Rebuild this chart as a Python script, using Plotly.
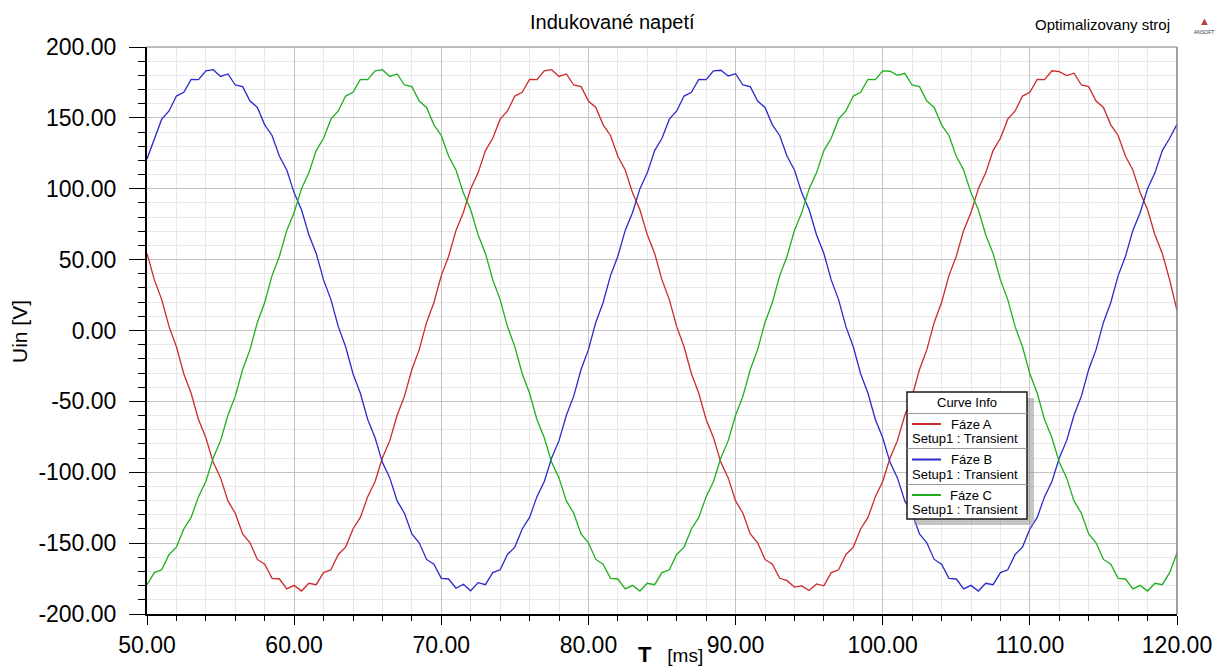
import plotly.graph_objects as go

# ---------------- data ----------------
T_START = 50.0   # ms
T_STEP = 0.5     # ms

faze_a = [
    54.4, 35.7, 21.8, 2.7, -11.5, -30.5,
    -44.3, -62.8, -75.7, -93.0, -104.0, -120.2, -128.9, -143.5, -149.8, -161.5,
    -164.8, -174.8, -175.3, -182.3, -179.8, -183.8, -178.3, -179.3, -170.8, -168.8,
    -158.0, -152.8, -140.0, -131.9, -117.2, -106.5, -90.0, -77.7, -59.8, -46.3,
    -27.5, -13.5, 5.7, 19.8, 38.7, 52.4, 70.6, 83.2, 100.1, 111.2,
    126.9, 135.6, 149.1, 154.9, 165.4, 168.0, 177.2, 177.0, 183.2,
    184.0, 179.2, 181.0, 173.2, 172.0, 161.9, 157.4, 145.1, 137.6, 122.9,
    113.2, 97.1, 85.2, 67.6, 54.4, 35.7, 21.8, 2.7, -11.5, -30.5,
    -44.3, -62.8, -75.7, -93.0, -104.0, -120.2, -128.9, -143.5, -149.8, -161.5,
    -164.8, -174.8, -176.5, -181.0, -180.2, -183.4, -178.8, -180.1, -170.8, -168.8,
    -158.0, -152.8, -140.0, -131.9, -117.2, -106.5, -90.0, -77.7, -59.8, -46.3,
    -27.5, -13.5, 5.7, 19.8, 38.7, 52.4, 70.6, 83.2, 100.1, 111.2,
    126.9, 135.6, 149.1, 154.9, 165.4, 168.0, 177.2, 177.0, 183.2,
    182.6, 179.8, 181.5, 173.2, 172.0, 161.9, 157.4, 145.1, 137.6, 122.9,
    113.2, 97.1, 85.2, 67.6, 54.4, 35.7, 14.0,
]

faze_b = [
    121.0, 135.6, 149.1, 154.9, 165.4, 168.0, 177.2, 177.0, 183.2,
    184.0, 179.2, 181.0, 173.2, 172.0, 161.9, 157.4, 145.1, 137.6, 122.9,
    113.2, 97.1, 85.2, 67.6, 54.4, 35.7, 21.8, 2.7, -11.5, -30.5,
    -44.3, -62.8, -75.7, -93.0, -104.0, -120.2, -128.9, -143.5, -149.8, -161.5,
    -164.8, -174.8, -175.3, -181.8, -179.0, -183.6, -177.9, -179.3, -170.8, -168.8,
    -158.0, -152.8, -140.0, -131.9, -117.2, -106.5, -90.0, -77.7, -59.8, -46.3,
    -27.5, -13.5, 5.7, 19.8, 38.7, 52.4, 70.6, 83.2, 100.1, 111.2,
    126.9, 135.6, 149.1, 154.9, 165.4, 168.0, 177.2, 177.0, 183.2,
    183.6, 179.6, 181.2, 173.2, 172.0, 161.9, 157.4, 145.1, 137.6, 122.9,
    113.2, 97.1, 85.2, 67.6, 54.4, 35.7, 21.8, 2.7, -11.5, -30.5,
    -44.3, -62.8, -75.7, -93.0, -104.0, -120.2, -128.9, -143.5, -149.8, -161.5,
    -164.8, -174.8, -175.3, -182.3, -179.8, -183.8, -178.3, -179.3, -170.8, -168.8,
    -158.0, -152.8, -140.0, -131.9, -117.2, -106.5, -90.0, -77.7, -59.8, -46.3,
    -27.5, -13.5, 5.7, 19.8, 38.7, 52.4, 70.6, 83.2, 100.1, 111.2,
    126.9, 135.6, 145.5,
]

faze_c = [
    -179.3, -170.8, -168.8,
    -158.0, -152.8, -140.0, -131.9, -117.2, -106.5, -90.0, -77.7, -59.8, -46.3,
    -27.5, -13.5, 5.7, 19.8, 38.7, 52.4, 70.6, 83.2, 100.1, 111.2,
    126.9, 135.6, 149.1, 154.9, 165.4, 168.0, 177.2, 177.0, 183.2,
    184.0, 179.2, 181.0, 173.2, 172.0, 161.9, 157.4, 145.1, 137.6, 122.9,
    113.2, 97.1, 85.2, 67.6, 54.4, 35.7, 21.8, 2.7, -11.5, -30.5,
    -44.3, -62.8, -75.7, -93.0, -104.0, -120.2, -128.9, -143.5, -149.8, -161.5,
    -164.8, -174.8, -175.3, -182.3, -179.8, -183.8, -178.3, -179.3, -170.8, -168.8,
    -158.0, -152.8, -140.0, -131.9, -117.2, -106.5, -90.0, -77.7, -59.8, -46.3,
    -27.5, -13.5, 5.7, 19.8, 38.7, 52.4, 70.6, 83.2, 100.1, 111.2,
    126.9, 135.6, 149.1, 154.9, 165.4, 168.0, 177.2, 177.0, 183.2,
    182.9, 180.0, 181.4, 173.2, 172.0, 161.9, 157.4, 145.1, 137.6, 122.9,
    113.2, 97.1, 85.2, 67.6, 54.4, 35.7, 21.8, 2.7, -11.5, -30.5,
    -44.3, -62.8, -75.7, -93.0, -104.0, -120.2, -128.9, -143.5, -149.8, -161.5,
    -164.8, -174.8, -175.3, -182.3, -179.8, -183.8, -178.3, -179.3, -170.8, -157.0,
]

series_values = [faze_a, faze_b, faze_c]
series_names = ["Fáze A", "Fáze B", "Fáze C"]
series_setup = "Setup1 : Transient"
series_colors = ["#cc2a2a", "#2a2acc", "#1fae1f"]

x_tickvals = [50, 60, 70, 80, 90, 100, 110, 120]
x_ticktext = ["50.00", "60.00", "70.00", "80.00", "90.00", "100.00", "110.00", "120.00"]
y_tickvals = [-200, -150, -100, -50, 0, 50, 100, 150, 200]
y_ticktext = ["-200.00", "-150.00", "-100.00", "-50.00", "0.00", "50.00", "100.00", "150.00", "200.00"]

title_text = "Indukované napetí"
subtitle_text = "Optimalizovany stroj"
x_title = "T"
x_unit = "[ms]"
y_title = "Uin [V]"
legend_title = "Curve Info"

# ---------------- figure ----------------
W, H = 1229, 669
L, R, T, B = 147, 52, 47, 55
PW, PH = W - L - R, H - T - B


def px(x):
    return (x - L) / PW


def py(y):
    return (H - B - y) / PH


FONT = "Arial, Liberation Sans, sans-serif"

fig = go.Figure()
for vals, name, col in zip(series_values, series_names, series_colors):
    t = [T_START + T_STEP * i for i in range(len(vals))]
    fig.add_trace(go.Scatter(x=t, y=vals, mode="lines", name=name,
                             line=dict(color=col, width=1.3), showlegend=False))

fig.update_layout(
    width=W, height=H,
    margin=dict(l=L, r=R, t=T, b=B),
    paper_bgcolor="white", plot_bgcolor="white",
    font=dict(family=FONT, color="#000000"),
    showlegend=False,
)

fig.update_xaxes(
    range=[50, 120], tickmode="array", tickvals=x_tickvals, ticktext=x_ticktext,
    showgrid=True, gridcolor="#c4c4c4", gridwidth=1,
    minor=dict(tickmode="linear", tick0=50, dtick=2, showgrid=True,
               gridcolor="#e8e8e8", gridwidth=1, ticks="outside", ticklen=5,
               tickcolor="#000000"),
    ticks="outside", ticklen=9, tickwidth=1, tickcolor="#000000",
    showline=True, linecolor="#000000", linewidth=2, zeroline=False,
    tickfont=dict(size=23, family=FONT), ticklabelstandoff=0,
)
fig.update_yaxes(
    range=[-200, 200], tickmode="array", tickvals=y_tickvals, ticktext=y_ticktext,
    showgrid=True, gridcolor="#c4c4c4", gridwidth=1,
    minor=dict(tickmode="linear", tick0=0, dtick=10, showgrid=True,
               gridcolor="#e8e8e8", gridwidth=1, ticks="outside", ticklen=7,
               tickcolor="#000000"),
    ticks="outside", ticklen=16, tickwidth=1, tickcolor="#000000",
    showline=True, linecolor="#000000", linewidth=2, zeroline=False,
    tickfont=dict(size=23, family=FONT), ticklabelstandoff=8,
)

shapes = []
# top / right frame
shapes.append(dict(type="line", xref="paper", yref="paper", x0=0, x1=1, y0=1, y1=1,
                   line=dict(color="#a8a8a8", width=1.5)))
shapes.append(dict(type="line", xref="paper", yref="paper", x0=1, x1=1, y0=0, y1=1,
                   line=dict(color="#808080", width=1.5)))

# legend box ("Curve Info")
bx0, by0, bx1, by1 = 907, 392, 1027, 519
shapes.append(dict(type="rect", xref="paper", yref="paper",
                   x0=px(bx0 + 7), x1=px(bx1 + 7), y0=py(by1 + 6), y1=py(by0 + 6),
                   fillcolor="rgba(150,150,150,0.55)", line=dict(width=0)))
shapes.append(dict(type="rect", xref="paper", yref="paper",
                   x0=px(bx0), x1=px(bx1), y0=py(by1), y1=py(by0),
                   fillcolor="white", line=dict(color="#1a1a1a", width=1.5)))
for sy in [413.5, 448.5, 484.5]:
    shapes.append(dict(type="line", xref="paper", yref="paper",
                       x0=px(bx0), x1=px(bx1), y0=py(sy), y1=py(sy),
                       line=dict(color="#9a9a9a", width=1)))

annotations = []
annotations.append(dict(text=legend_title, xref="paper", yref="paper",
                        x=px(967), y=py(402.5), showarrow=False,
                        xanchor="center", yanchor="middle",
                        font=dict(size=13, family=FONT, color="#000")))
entry_y = [424, 459.5, 495]
for name, col, ey in zip(series_names, series_colors, entry_y):
    shapes.append(dict(type="line", xref="paper", yref="paper",
                       x0=px(912), x1=px(941), y0=py(ey), y1=py(ey),
                       line=dict(color=col, width=2)))
    annotations.append(dict(text=name, xref="paper", yref="paper",
                            x=px(971), y=py(ey), showarrow=False,
                            xanchor="center", yanchor="middle",
                            font=dict(size=13, family=FONT, color="#000")))
    annotations.append(dict(text=series_setup, xref="paper", yref="paper",
                            x=px(910), y=py(ey + 14.5), showarrow=False,
                            xanchor="left", yanchor="middle",
                            font=dict(size=13, family=FONT, color="#000")))

# titles
annotations.append(dict(text=title_text, xref="paper", yref="paper",
                        x=px(612), y=py(22), showarrow=False,
                        xanchor="center", yanchor="middle",
                        font=dict(size=20, family=FONT, color="#000")))
annotations.append(dict(text=subtitle_text, xref="paper", yref="paper",
                        x=px(1102), y=py(25), showarrow=False,
                        xanchor="center", yanchor="middle",
                        font=dict(size=15, family=FONT, color="#000")))
annotations.append(dict(text="▲", xref="paper", yref="paper",
                        x=px(1204), y=py(21), showarrow=False,
                        xanchor="center", yanchor="middle",
                        font=dict(size=11, family=FONT, color="#c03a3a")))
annotations.append(dict(text="ANSOFT", xref="paper", yref="paper",
                        x=px(1204), y=py(32), showarrow=False,
                        xanchor="center", yanchor="middle",
                        font=dict(size=5, family=FONT, color="#333")))
annotations.append(dict(text=y_title, xref="paper", yref="paper",
                        x=px(19), y=py(332), showarrow=False, textangle=-90,
                        xanchor="center", yanchor="middle",
                        font=dict(size=21, family=FONT, color="#000")))
annotations.append(dict(text=f"<span style='font-size:22px'><b>{x_title}</b></span>&nbsp;&nbsp;&nbsp;{x_unit}",
                        xref="paper", yref="paper",
                        x=px(670), y=py(654), showarrow=False,
                        xanchor="center", yanchor="middle",
                        font=dict(size=19, family=FONT, color="#000")))

fig.update_layout(shapes=shapes, annotations=annotations)
fig.write_html("out.html")
